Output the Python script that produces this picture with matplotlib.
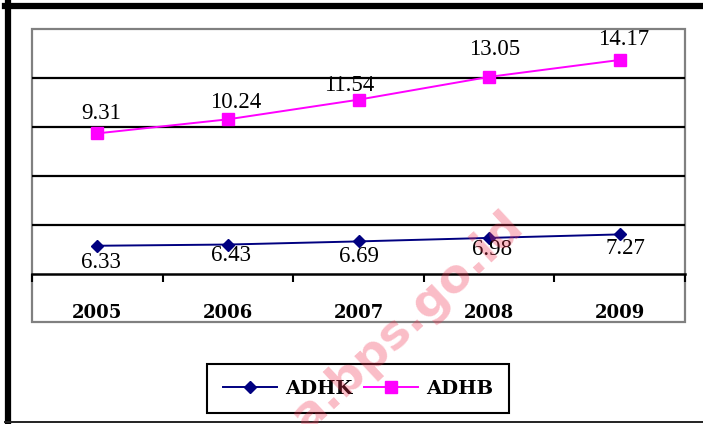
import matplotlib
matplotlib.use('Agg')
import matplotlib.pyplot as plt
import matplotlib.transforms as mtrans
from matplotlib.patches import Rectangle
from matplotlib.lines import Line2D

# ---- data ----
years = ['2005', '2006', '2007', '2008', '2009']
adhk = [6.33, 6.43, 6.69, 6.98, 7.27]
adhb = [9.31, 10.24, 11.54, 13.05, 14.17]
series_names = ['ADHK', 'ADHB']

# label offsets in pixels (style)
adhb_off = [(4, 20), (8, 17), (-9, 14), (6, 27), (4, 20)]
adhk_off = [(4, -17), (3, -11), (0, -15), (3, -12), (6, -14)]

W, H = 703, 424
fig = plt.figure(figsize=(W / 100, H / 100), dpi=100)
fig.patch.set_facecolor('white')


def fx(px):
    return px / W


def fy(py):
    return 1 - py / H


L, R, T, B = 32, 685, 29.3, 274
ax = fig.add_axes([fx(L), fy(B), (R - L) / W, (B - T) / H])
ax.patch.set_alpha(0)
ax2 = ax.twinx()
ax2.patch.set_alpha(0)

x = list(range(len(years)))
serif = 'Liberation Serif'
wide_serif = 'DejaVu Serif'

ax.set_xlim(-0.5, len(years) - 0.5)
ax.set_ylim(0, 16.2)
ax2.set_ylim(3.99, 24.26)

for f in [0.2, 0.4, 0.6, 0.8]:
    ax.axhline(f * 16.2, color='black', lw=1.6, zorder=1)

l_hb, = ax.plot(x, adhb, color='#ff00ff', marker='s', ms=8.6, lw=1.4, zorder=3)
l_hk, = ax2.plot(x, adhk, color='#000080', marker='D', ms=6.6, lw=1.4, zorder=3)

for i, v in enumerate(adhb):
    ax.annotate(f'{v:.2f}', (i, v), xytext=adhb_off[i], textcoords='offset pixels',
                ha='center', va='center', fontsize=16.5, family=serif, color='black')
for i, v in enumerate(adhk):
    ax2.annotate(f'{v:.2f}', (i, v), xytext=adhk_off[i], textcoords='offset pixels',
                 ha='center', va='center', fontsize=16.5, family=serif, color='black')

for s in ['top', 'left', 'right']:
    ax.spines[s].set_visible(False)
    ax2.spines[s].set_visible(False)
ax2.spines['bottom'].set_visible(False)
ax.spines['bottom'].set_color('black')
ax.spines['bottom'].set_linewidth(1.8)

ax.set_xticks([i - 0.5 for i in range(len(years) + 1)])
ax.set_xticklabels([])
ax.tick_params(axis='x', direction='out', length=5.5, width=1.5, color='black')
ax.set_yticks([])
ax2.set_yticks([])

trans = mtrans.blended_transform_factory(ax.transData, ax.transAxes)
for i, yr in enumerate(years):
    ax.text(i, -39 / (B - T), yr, transform=trans, ha='center', va='center',
            fontsize=13, fontweight='bold', family=wide_serif)

# plot-area gray frame
fig.add_artist(Rectangle((fx(L), fy(322)), (R - L) / W, (322 - T) / H,
                         transform=fig.transFigure, fill=False, ec='#808080', lw=1.6, zorder=0))

# outer black frame (partially visible)
fig.add_artist(Line2D([fx(8), fx(8)], [fy(3), fy(424)], transform=fig.transFigure,
                      color='black', lw=4.5))
fig.add_artist(Line2D([fx(5), fx(703)], [fy(6), fy(6)], transform=fig.transFigure,
                      color='black', lw=4.5))
fig.add_artist(Line2D([fx(5), fx(703)], [fy(422), fy(422)], transform=fig.transFigure,
                      color='#222222', lw=1.4))

leg = fig.legend([l_hk, l_hb], series_names, loc='center',
                 bbox_to_anchor=(fx(358), fy(388.5)), ncol=2,
                 prop={'family': wide_serif, 'weight': 'bold', 'size': 14},
                 frameon=True, fancybox=False, edgecolor='black', framealpha=1,
                 handlelength=2.8, columnspacing=0.6, handletextpad=0.4, borderpad=0.8)
leg.get_frame().set_linewidth(1.5)

# watermark
fig.text(fx(517), fy(220), 'a.bps.go.id', rotation=43, rotation_mode='anchor',
         ha='right', va='center', fontsize=34, fontweight='bold', family='DejaVu Sans',
         color=(0.945, 0.216, 0.33), alpha=0.33, zorder=10)

fig.savefig('out.png', dpi=100)
